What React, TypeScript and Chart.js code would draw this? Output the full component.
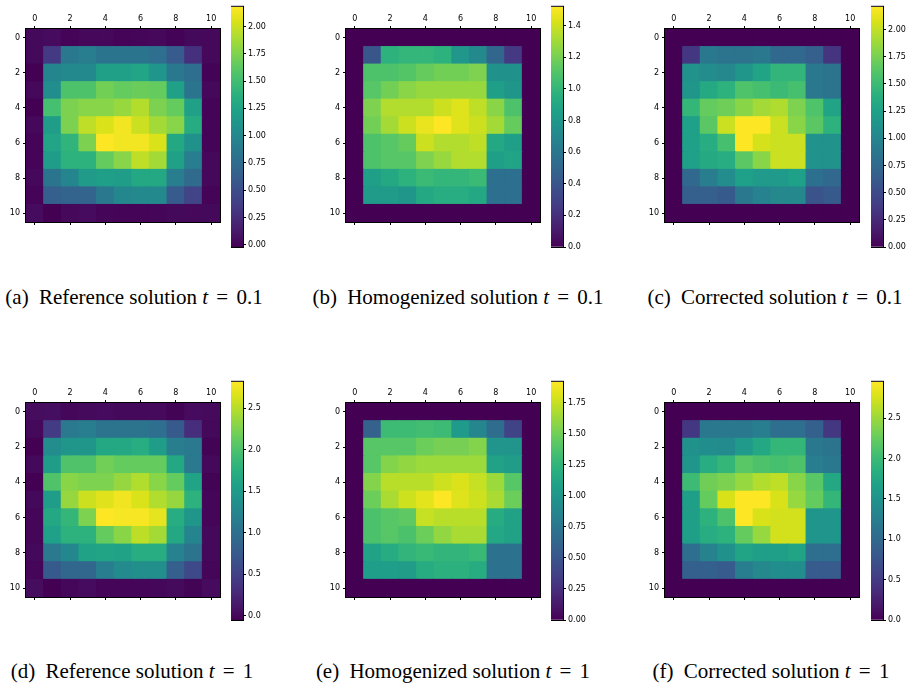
import React, { useEffect, useRef } from 'react';
import { Chart, registerables } from 'chart.js';

Chart.register(...registerables);

// ---------- data (row index = y, column index = x) ----------
const refT01: number[][] = [
  [0.03, 0.04, 0.00, 0.02, 0.02, 0.00, 0.01, 0.02, -0.01, 0.03, 0.02],
  [0.03, 0.35, 0.86, 0.90, 0.82, 0.82, 0.82, 0.77, 0.60, 0.27, 0.02],
  [-0.02, 0.97, 1.01, 1.01, 1.23, 1.23, 1.26, 1.12, 0.86, 0.77, -0.01],
  [0.02, 1.04, 1.56, 1.56, 1.70, 1.65, 1.67, 1.65, 1.23, 0.82, 0.02],
  [-0.02, 1.52, 1.74, 1.78, 1.78, 1.83, 1.92, 1.74, 1.65, 1.23, 0.00],
  [0.02, 1.19, 1.74, 1.96, 2.05, 2.14, 2.00, 1.87, 1.78, 1.34, 0.00],
  [0.00, 1.26, 1.41, 1.74, 2.18, 2.14, 2.14, 2.05, 1.30, 1.08, 0.00],
  [0.00, 1.19, 1.39, 1.39, 1.65, 1.78, 1.96, 1.87, 1.23, 0.90, 0.02],
  [0.02, 0.82, 0.97, 1.17, 1.21, 1.19, 1.30, 1.30, 0.90, 0.73, 0.02],
  [0.00, 0.64, 0.68, 0.68, 0.86, 0.99, 1.01, 1.01, 0.60, 0.42, 0.00],
  [0.04, -0.02, 0.02, 0.04, 0.01, 0.00, 0.00, 0.01, 0.03, 0.02, 0.03],
];

const homT01: number[][] = [
  [0, 0, 0, 0, 0, 0, 0, 0, 0, 0, 0],
  [0, 0.40, 0.97, 1.00, 1.00, 0.97, 0.80, 0.71, 0.50, 0.25, 0],
  [0, 1.09, 1.09, 1.11, 1.16, 1.19, 1.19, 1.22, 0.76, 0.76, 0],
  [0, 1.12, 1.19, 1.25, 1.28, 1.28, 1.28, 1.28, 0.85, 0.79, 0],
  [0, 1.22, 1.34, 1.34, 1.34, 1.40, 1.44, 1.37, 1.25, 1.09, 0],
  [0, 1.19, 1.31, 1.40, 1.47, 1.52, 1.44, 1.40, 1.31, 1.16, 0],
  [0, 1.09, 1.12, 1.16, 1.40, 1.34, 1.34, 1.37, 0.91, 0.85, 0],
  [0, 1.09, 1.12, 1.12, 1.22, 1.28, 1.34, 1.34, 0.85, 0.88, 0],
  [0, 0.85, 0.91, 0.97, 1.03, 1.00, 1.00, 1.03, 0.55, 0.55, 0],
  [0, 0.82, 0.82, 0.79, 0.91, 0.94, 0.94, 0.91, 0.55, 0.55, 0],
  [0, 0, 0, 0, 0, 0, 0, 0, 0, 0, 0],
];

const corT01: number[][] = [
  [0, 0, 0, 0, 0, 0, 0, 0, 0, 0, 0],
  [0, 0.35, 0.88, 0.84, 0.84, 0.88, 0.75, 0.75, 0.66, 0.33, 0],
  [0, 1.11, 1.06, 1.02, 1.15, 1.28, 1.44, 1.44, 0.88, 0.84, 0],
  [0, 1.15, 1.33, 1.41, 1.59, 1.55, 1.50, 1.55, 0.88, 0.84, 0],
  [0, 1.46, 1.68, 1.72, 1.81, 1.90, 1.94, 1.77, 1.59, 1.28, 0],
  [0, 1.24, 1.64, 2.03, 2.21, 2.21, 2.03, 1.81, 1.64, 1.41, 0],
  [0, 1.24, 1.37, 1.55, 2.21, 2.06, 2.03, 2.03, 1.11, 1.11, 0],
  [0, 1.24, 1.33, 1.37, 1.64, 1.81, 2.03, 2.03, 1.11, 1.11, 0],
  [0, 0.75, 0.93, 1.06, 1.24, 1.19, 1.19, 1.24, 0.80, 0.75, 0],
  [0, 0.66, 0.66, 0.62, 0.88, 0.97, 1.02, 1.02, 0.57, 0.62, 0],
  [0, 0, 0, 0, 0, 0, 0, 0, 0, 0, 0],
];

const refT1: number[][] = [
  [0.04, 0.05, 0.00, 0.02, 0.03, 0.01, 0.01, 0.02, -0.03, 0.03, 0.02],
  [0.01, 0.44, 1.10, 1.16, 1.04, 1.04, 1.04, 0.98, 0.75, 0.32, 0.01],
  [-0.05, 1.33, 1.44, 1.44, 1.67, 1.67, 1.73, 1.53, 1.16, 1.10, -0.03],
  [0.01, 1.53, 2.02, 2.02, 2.19, 2.13, 2.13, 2.13, 1.67, 1.10, 0.01],
  [-0.05, 2.02, 2.30, 2.25, 2.25, 2.36, 2.48, 2.30, 2.13, 1.61, -0.03],
  [0.01, 1.53, 2.36, 2.59, 2.68, 2.76, 2.65, 2.48, 2.36, 1.79, -0.02],
  [-0.02, 1.67, 1.84, 2.25, 2.82, 2.79, 2.79, 2.71, 1.73, 1.44, -0.02],
  [-0.02, 1.56, 1.79, 1.79, 2.13, 2.30, 2.53, 2.42, 1.67, 1.24, 0.01],
  [0.01, 1.10, 1.27, 1.59, 1.61, 1.59, 1.73, 1.73, 1.21, 1.04, 0.01],
  [-0.02, 0.75, 0.90, 0.90, 1.16, 1.30, 1.36, 1.36, 0.81, 0.58, -0.02],
  [0.04, -0.05, 0.00, 0.03, -0.01, -0.02, -0.02, 0.00, 0.02, -0.03, 0.03],
];

const homT1: number[][] = [
  [0, 0, 0, 0, 0, 0, 0, 0, 0, 0, 0],
  [0, 0.59, 1.31, 1.31, 1.33, 1.31, 1.03, 0.87, 0.68, 0.38, 0],
  [0, 1.41, 1.41, 1.41, 1.48, 1.52, 1.52, 1.56, 0.99, 0.99, 0],
  [0, 1.41, 1.56, 1.60, 1.63, 1.63, 1.63, 1.63, 1.10, 1.05, 0],
  [0, 1.56, 1.71, 1.71, 1.71, 1.77, 1.81, 1.75, 1.63, 1.41, 0],
  [0, 1.48, 1.67, 1.77, 1.84, 1.92, 1.82, 1.77, 1.67, 1.48, 0],
  [0, 1.37, 1.41, 1.44, 1.75, 1.71, 1.71, 1.71, 1.18, 1.10, 0],
  [0, 1.37, 1.41, 1.37, 1.48, 1.60, 1.67, 1.67, 1.14, 1.10, 0],
  [0, 1.10, 1.18, 1.25, 1.29, 1.25, 1.25, 1.29, 0.72, 0.72, 0],
  [0, 1.06, 1.06, 1.05, 1.18, 1.22, 1.22, 1.18, 0.72, 0.72, 0],
  [0, 0, 0, 0, 0, 0, 0, 0, 0, 0, 0],
];

const corT1: number[][] = [
  [0, 0, 0, 0, 0, 0, 0, 0, 0, 0, 0],
  [0, 0.47, 1.18, 1.18, 1.18, 1.24, 1.06, 1.06, 0.89, 0.47, 0],
  [0, 1.48, 1.42, 1.39, 1.59, 1.77, 1.95, 1.95, 1.18, 1.12, 0],
  [0, 1.53, 1.83, 1.95, 2.18, 2.12, 2.07, 2.12, 1.24, 1.18, 0],
  [0, 2.01, 2.30, 2.36, 2.48, 2.60, 2.66, 2.42, 2.18, 1.77, 0],
  [0, 1.65, 2.24, 2.77, 2.95, 2.95, 2.77, 2.48, 2.24, 1.95, 0],
  [0, 1.65, 1.89, 2.12, 2.95, 2.77, 2.74, 2.74, 1.53, 1.53, 0],
  [0, 1.65, 1.83, 1.89, 2.24, 2.48, 2.74, 2.74, 1.53, 1.53, 0],
  [0, 1.06, 1.30, 1.48, 1.71, 1.65, 1.65, 1.71, 1.06, 1.06, 0],
  [0, 0.89, 0.89, 0.83, 1.24, 1.36, 1.42, 1.42, 0.83, 0.83, 0],
  [0, 0, 0, 0, 0, 0, 0, 0, 0, 0, 0],
];

const PANEL_DATA = [refT01, homT01, corT01, refT1, homT1, corT1];
const CAPTION_LETTERS = ['(a)', '(b)', '(c)', '(d)', '(e)', '(f)'];
const CAPTION_NAMES = [
  'Reference solution', 'Homogenized solution', 'Corrected solution',
  'Reference solution', 'Homogenized solution', 'Corrected solution',
];
const CAPTION_TIMES = ['0.1', '0.1', '0.1', '1', '1', '1'];
const AXIS_TICKS = [0, 2, 4, 6, 8, 10];
const CBAR_TICKS_A = [0, 0.25, 0.5, 0.75, 1.0, 1.25, 1.5, 1.75, 2.0];
const CBAR_TICKS_B = [0, 0.2, 0.4, 0.6, 0.8, 1.0, 1.2, 1.4];
const CBAR_TICKS_C = [0, 0.25, 0.5, 0.75, 1.0, 1.25, 1.5, 1.75, 2.0];
const CBAR_TICKS_D = [0, 0.5, 1.0, 1.5, 2.0, 2.5];
const CBAR_TICKS_E = [0, 0.25, 0.5, 0.75, 1.0, 1.25, 1.5, 1.75];
const CBAR_TICKS_F = [0, 0.5, 1.0, 1.5, 2.0, 2.5];
const CBAR_TICKS = [CBAR_TICKS_A, CBAR_TICKS_B, CBAR_TICKS_C, CBAR_TICKS_D, CBAR_TICKS_E, CBAR_TICKS_F];
const CBAR_DECIMALS = [2, 1, 2, 1, 2, 1];

// ---------- layout ----------
const COL_LEFT = [26, 346, 665];
const CBAR_LEFT = [231, 551, 871];
const ROW_TOP = [29, 403];
const ROW_H = [193, 194];
const CBAR_TOP = [5, 380];
const CBAR_H = [242, 240];
const MAP_W = 194;
const CAP_CENTER_X = [134, 458, 775, 132, 453, 771];
const CAP_CENTER_Y = [297, 671];

const VIRIDIS = [
  '#440154', '#48186a', '#472d7b', '#424086', '#3b528b', '#33638d', '#2c728e', '#26828e',
  '#21918c', '#1fa088', '#28ae80', '#3fbc73', '#5ec962', '#84d44b', '#addc30', '#d8e219', '#fde725',
];

function hexToRgb(h: string) {
  return [parseInt(h.slice(1, 3), 16), parseInt(h.slice(3, 5), 16), parseInt(h.slice(5, 7), 16)];
}
const VIR_RGB = VIRIDIS.map(hexToRgb);
function viridis(f: number) {
  const t = Math.max(0, Math.min(1, f)) * (VIR_RGB.length - 1);
  const i = Math.min(VIR_RGB.length - 2, Math.floor(t));
  const u = t - i;
  const a = VIR_RGB[i], b = VIR_RGB[i + 1];
  const c = a.map((v, k) => Math.round(v + (b[k] - v) * u));
  return `rgb(${c[0]},${c[1]},${c[2]})`;
}

const TICK_FONT = { family: '"DejaVu Sans", sans-serif', size: 8 };

const framePlugin = {
  id: 'frame',
  afterDatasetsDraw(chart: any) {
    const { ctx, chartArea: a } = chart;
    ctx.save();
    ctx.strokeStyle = '#000';
    ctx.lineWidth = 1;
    ctx.strokeRect(a.left - 0.5, a.top - 0.5, a.right - a.left + 1, a.bottom - a.top + 1);
    ctx.restore();
  },
};

const gridOpts = {
  display: true,
  drawOnChartArea: false,
  drawTicks: true,
  tickLength: 3,
  color: '#000',
  tickColor: '#000',
  lineWidth: 1,
  offset: false,
};

const setTicks = (values: number[]) => (s: any) => {
  s.ticks = values.map((v) => ({ value: v }));
};

function HeatMap({ matrix, left, top, h }: { matrix: number[][]; left: number; top: number; h: number }) {
  const ref = useRef<HTMLCanvasElement>(null);
  useEffect(() => {
    const flat = matrix.flat();
    const vmin = Math.min(...flat);
    const vmax = Math.max(...flat);
    const points: any[] = [];
    const colors: string[] = [];
    matrix.forEach((row, r) =>
      row.forEach((v, c) => {
        points.push({ x: c, y: [r - 0.5, r + 0.5] });
        colors.push(viridis((v - vmin) / (vmax - vmin)));
      })
    );
    const n = matrix.length;
    const chart = new Chart(ref.current!, {
      type: 'bar',
      data: {
        datasets: [
          {
            data: points,
            backgroundColor: colors,
            borderWidth: 0,
            barPercentage: 1,
            categoryPercentage: 1,
            inflateAmount: 0.5,
          } as any,
        ],
      },
      options: {
        animation: false,
        responsive: false,
        events: [],
        layout: { padding: { left: 0, top: 0, right: 2, bottom: 2 }, autoPadding: false },
        plugins: { legend: { display: false }, tooltip: { enabled: false } },
        scales: {
          x: {
            type: 'linear',
            position: 'top',
            min: -0.5,
            max: n - 0.5,
            bounds: 'data',
            offset: false,
            ticks: { font: TICK_FONT, color: '#000', padding: 2, maxRotation: 0, autoSkip: false },
            grid: gridOpts,
            border: { display: false },
            afterBuildTicks: setTicks(AXIS_TICKS),
            afterFit: (s: any) => { s.height = 19; },
          },
          xb: {
            type: 'linear',
            axis: 'x',
            position: 'bottom',
            min: -0.5,
            max: n - 0.5,
            bounds: 'data',
            offset: false,
            ticks: { display: false, autoSkip: false },
            grid: gridOpts,
            border: { display: false },
            afterBuildTicks: setTicks(AXIS_TICKS),
            afterFit: (s: any) => { s.height = 6; },
          },
          y: {
            type: 'linear',
            reverse: true,
            min: -0.5,
            max: n - 0.5,
            bounds: 'data',
            offset: false,
            beginAtZero: false,
            ticks: { font: TICK_FONT, color: '#000', padding: 3, autoSkip: false },
            grid: gridOpts,
            border: { display: false },
            afterBuildTicks: setTicks(AXIS_TICKS),
            afterFit: (s: any) => { s.width = 26; },
          },
        } as any,
      },
      plugins: [framePlugin],
    });
    return () => chart.destroy();
  }, [matrix]);
  return (
    <canvas
      ref={ref}
      width={26 + MAP_W + 2}
      height={19 + h + 6 + 2}
      style={{ position: 'absolute', left: left - 26, top: top - 19 }}
    />
  );
}

function ColorBar({ matrix, left, top, h, ticks, decimals }: { matrix: number[][]; left: number; top: number; h: number; ticks: number[]; decimals: number }) {
  const ref = useRef<HTMLCanvasElement>(null);
  useEffect(() => {
    const flat = matrix.flat();
    const vmin = Math.min(...flat);
    const vmax = Math.max(...flat);
    const chart = new Chart(ref.current!, {
      type: 'bar',
      data: {
        labels: [''],
        datasets: [
          {
            data: [[vmin, vmax]],
            borderWidth: 0,
            barPercentage: 1,
            categoryPercentage: 1,
            backgroundColor: (ctx: any) => {
              const area = ctx.chart.chartArea;
              if (!area) return '#440154';
              const g = ctx.chart.ctx.createLinearGradient(0, area.bottom, 0, area.top);
              VIRIDIS.forEach((c, i) => g.addColorStop(i / (VIRIDIS.length - 1), c));
              return g;
            },
          } as any,
        ],
      },
      options: {
        animation: false,
        responsive: false,
        events: [],
        layout: { padding: { left: 0, top: 5, right: 0, bottom: 8 }, autoPadding: false },
        plugins: { legend: { display: false }, tooltip: { enabled: false } },
        scales: {
          x: { display: false },
          y: {
            type: 'linear',
            position: 'right',
            min: vmin,
            max: vmax,
            bounds: 'data',
            beginAtZero: false,
            ticks: {
              font: TICK_FONT,
              color: '#000',
              padding: 2,
              autoSkip: false,
              callback: (v: any) => Number(v).toFixed(decimals),
            },
            grid: gridOpts,
            border: { display: false },
            afterBuildTicks: setTicks(ticks),
            afterFit: (s: any) => { s.width = 34; },
          },
        } as any,
      },
      plugins: [framePlugin],
    });
    return () => chart.destroy();
  }, [matrix, ticks, decimals]);
  return (
    <canvas
      ref={ref}
      width={12 + 34}
      height={5 + h + 8}
      style={{ position: 'absolute', left, top: top - 5 }}
    />
  );
}

export default function App() {
  return (
    <div style={{ position: 'absolute', left: 0, top: 0, width: 914, height: 685, background: '#fff', overflow: 'hidden' }}>
      {PANEL_DATA.map((m, i) => {
        const row = Math.floor(i / 3);
        const col = i % 3;
        return (
          <React.Fragment key={i}>
            <HeatMap matrix={m} left={COL_LEFT[col]} top={ROW_TOP[row]} h={ROW_H[row]} />
            <ColorBar
              matrix={m}
              left={CBAR_LEFT[col]}
              top={CBAR_TOP[row]}
              h={CBAR_H[row]}
              ticks={CBAR_TICKS[i]}
              decimals={CBAR_DECIMALS[i]}
            />
            <div
              style={{
                position: 'absolute',
                left: CAP_CENTER_X[i] - 180,
                width: 360,
                textAlign: 'center',
                top: CAP_CENTER_Y[row] - 12,
                height: 24,
                lineHeight: '24px',
                font: '21px "Liberation Serif", "Times New Roman", serif',
                whiteSpace: 'nowrap',
                color: '#000',
              }}
            >
              <span style={{ marginRight: 5 }}>{CAPTION_LETTERS[i]}</span> {CAPTION_NAMES[i]} <i>t</i>
              <span style={{ margin: '0 3px' }}> = </span>
              {CAPTION_TIMES[i]}
            </div>
          </React.Fragment>
        );
      })}
    </div>
  );
}
